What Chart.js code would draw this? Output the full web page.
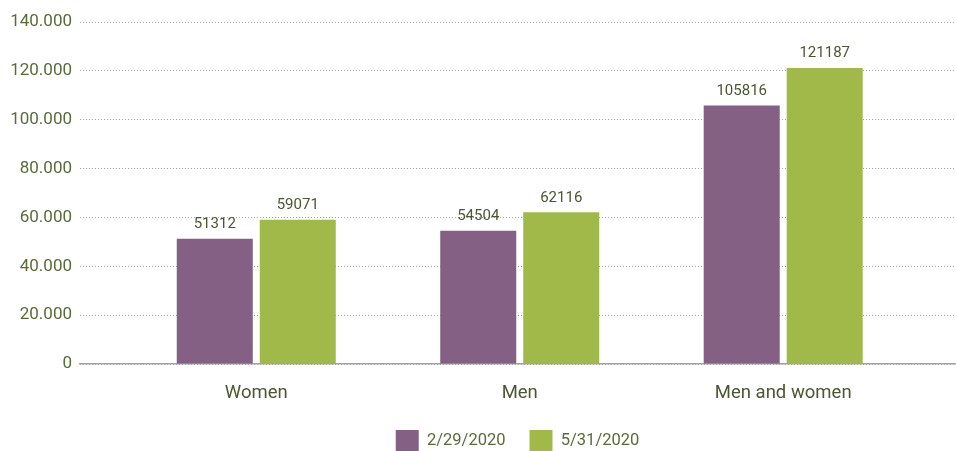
<!DOCTYPE html>
<html>
<head>
<meta charset="utf-8">
<script src="https://cdn.jsdelivr.net/npm/chart.js@4/dist/chart.umd.min.js"></script>
<style>
  html, body { margin: 0; padding: 0; background: #ffffff; }
  #wrap { width: 956px; height: 451px; }
</style>
</head>
<body>
<div id="wrap"><canvas id="c" width="956" height="451"></canvas></div>
<script>
// Registered people by group, end of February vs end of May 2020
const categories = ['Women', 'Men', 'Men and women'];
const seriesNames = ['2/29/2020', '5/31/2020'];
const febValues = [51312, 54504, 105816];
const mayValues = [59071, 62116, 121187];
const yTickValues = [0, 20000, 40000, 60000, 80000, 100000, 120000, 140000];

const PURPLE = '#846184';
const GREEN = '#a1b948';
const TICK_TEXT = '#5a6b3a';
const LABEL_TEXT = '#4b5731';
const FONT = 'Roboto, "Liberation Sans", sans-serif';

// 140000 -> "140.000"
const fmt = v => String(v).replace(/\B(?=(\d{3})+(?!\d))/g, '.');

const toPoints = vals => vals.map((v, i) => ({ x: i, y: v }));

// Writes each bar's value just above it
const valueLabels = {
  id: 'valueLabels',
  afterDatasetsDraw(chart) {
    const ctx = chart.ctx;
    ctx.save();
    ctx.font = '15px ' + FONT;
    ctx.fillStyle = LABEL_TEXT;
    ctx.textAlign = 'center';
    ctx.textBaseline = 'bottom';
    chart.data.datasets.forEach((ds, di) => {
      chart.getDatasetMeta(di).data.forEach((bar, i) => {
        ctx.fillText(String(ds.data[i].y), bar.x, bar.y - 7);
      });
    });
    ctx.restore();
  }
};

new Chart(document.getElementById('c'), {
  type: 'bar',
  data: {
    datasets: [
      { label: seriesNames[0], data: toPoints(febValues), backgroundColor: PURPLE },
      { label: seriesNames[1], data: toPoints(mayValues), backgroundColor: GREEN }
    ]
  },
  options: {
    responsive: false,
    devicePixelRatio: 1,
    animation: false,
    categoryPercentage: 0.63,
    barPercentage: 0.916,
    layout: { padding: { top: 22, right: 1, bottom: -11, left: 0 } },
    plugins: {
      tooltip: { enabled: false },
      legend: {
        position: 'bottom',
        fullSize: false,
        labels: {
          boxWidth: 23,
          boxHeight: 22,
          padding: 24,
          color: TICK_TEXT,
          font: { family: FONT, size: 16.5 }
        }
      }
    },
    scales: {
      x: {
        type: 'linear',
        min: -0.669,
        max: 2.652,
        offset: false,
        afterBuildTicks: s => { s.ticks = categories.map((c, i) => ({ value: i })); },
        afterFit: s => { s.height = 42; },
        ticks: {
          callback: v => categories[v],
          color: LABEL_TEXT,
          font: { family: FONT, size: 18.5 },
          padding: 18,
          maxRotation: 0
        },
        grid: { color: 'transparent', drawTicks: false, offset: false },
        border: { display: true, color: '#a3a3a3', width: 1.5 }
      },
      y: {
        min: 0,
        max: 140000,
        afterBuildTicks: s => { s.ticks = yTickValues.map(v => ({ value: v })); },
        afterFit: s => { s.width = 80; },
        ticks: {
          callback: v => fmt(v),
          color: TICK_TEXT,
          font: { family: FONT, size: 17 },
          padding: 8
        },
        grid: { color: '#a8a8a8', lineWidth: 1, drawTicks: false },
        border: { display: false, dash: [1, 2] }
      }
    }
  },
  plugins: [valueLabels]
});
</script>
</body>
</html>
